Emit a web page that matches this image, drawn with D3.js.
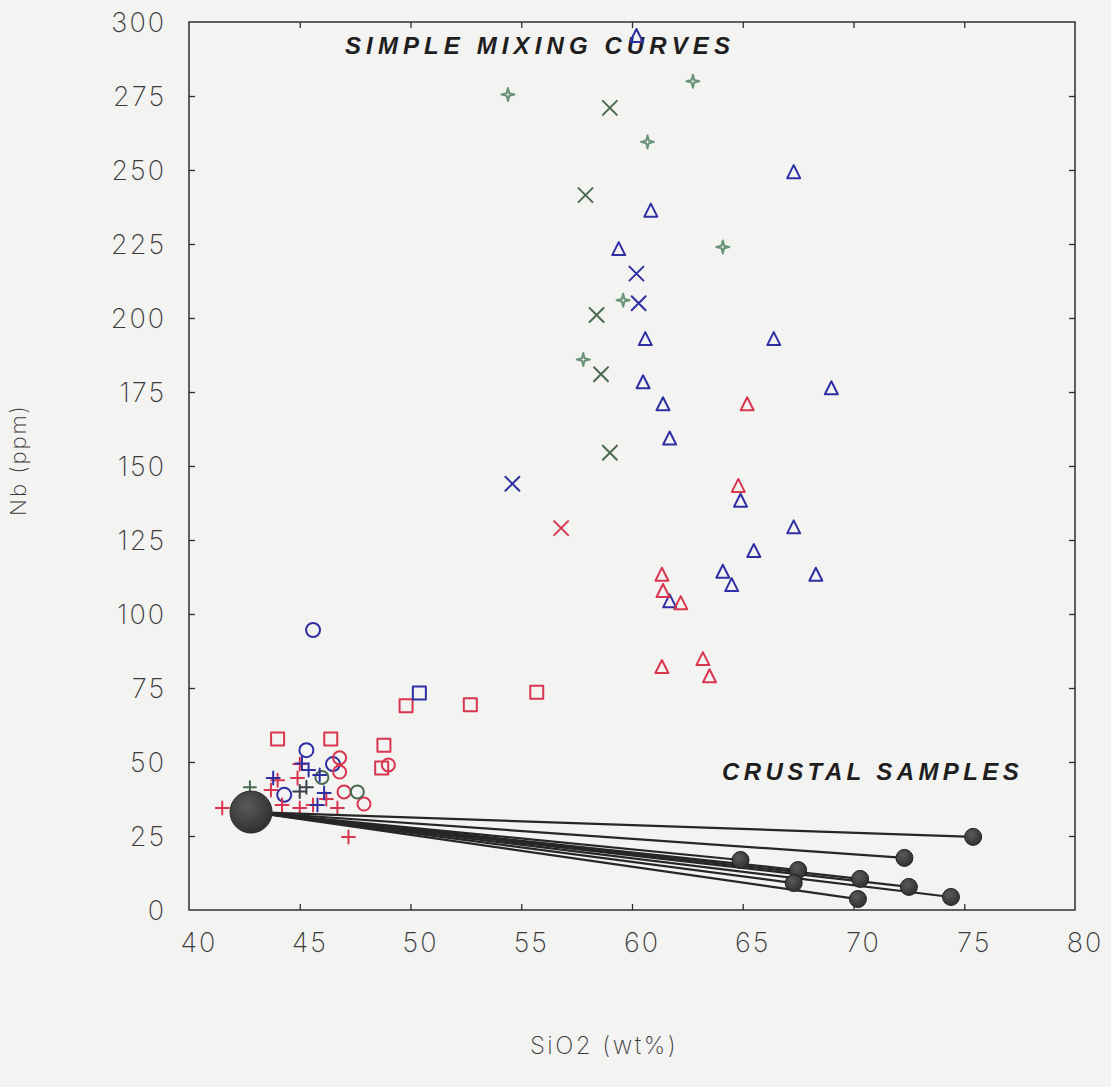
<!DOCTYPE html>
<html>
<head>
<meta charset="utf-8">
<script src="https://cdn.jsdelivr.net/npm/d3@7"></script>
<style>
  html, body { margin: 0; padding: 0; background: #f3f3f2; }
  svg { display: block; }
  .tick-label { font-family: Inter, "DejaVu Sans", sans-serif; font-weight: 200; fill: #3a3a3a; }
  .title { font-family: "Liberation Sans", Arial, sans-serif; font-weight: bold; font-style: italic; fill: #1e1e1e; }
</style>
</head>
<body>
<script>
// Nb (ppm) versus SiO2 (wt%) : simple mixing curves and crustal samples

const xTicks = [40, 45, 50, 55, 60, 65, 70, 75, 80];
const yTicks = [0, 25, 50, 75, 100, 125, 150, 175, 200, 225, 250, 275, 300];

// mixing-curve points, grouped by symbol and colour  [SiO2, Nb]
const blueTriangles = [
  [60.2, 295], [67.3, 249], [60.85, 236], [59.4, 223], [60.6, 192.6], [66.4, 192.6],
  [60.5, 178], [69.0, 176], [61.4, 170.6], [61.7, 159], [64.9, 138], [67.3, 129],
  [65.5, 121], [64.1, 114], [68.3, 113], [64.5, 109.5], [61.7, 104]
];
const redTriangles = [
  [65.2, 170.6], [64.8, 143], [61.35, 113], [61.4, 107.5], [62.2, 103.4],
  [63.2, 84.5], [61.35, 81.8], [63.5, 78.7]
];
const greenCrosses = [[59.0, 271], [57.9, 241.5], [58.4, 201], [58.6, 181], [59.0, 154.5]];
const blueCrosses = [[60.2, 215], [60.3, 205], [54.6, 144]];
const redCrosses = [[56.8, 129]];
const greenStars = [[54.4, 275.5], [62.75, 280], [60.7, 259.5], [64.1, 224], [59.6, 206], [57.8, 186]];
const redSquares = [
  [44.0, 57.8], [46.4, 57.8], [48.8, 55.7], [48.7, 48.0], [49.8, 69], [52.7, 69.3], [55.7, 73.6]
];
const blueSquares = [[50.4, 73.3]];
const blueCircles = [[45.6, 94.6], [45.3, 54], [46.5, 49.3], [44.3, 38.9]];
const redCircles = [[46.8, 51.4], [46.8, 46.6], [47.0, 39.9], [47.9, 35.8], [49.0, 49.0]];
const greenCircles = [[47.6, 39.9], [46.0, 44.8]];
const redPluses = [
  [45.0, 49.3], [44.9, 44.6], [43.7, 40.5], [44.0, 43.8], [41.5, 34.5], [44.2, 35.5],
  [45.0, 34.5], [45.6, 35.5], [46.7, 34.5], [47.2, 24.7], [43.5, 32.5], [46.2, 37.5]
];
const bluePluses = [[43.8, 44.6], [45.4, 47.3], [45.9, 45.6], [46.1, 39.5], [45.8, 35.5], [45.1, 49.5]];
const darkPluses = [[45.3, 41.5], [45.0, 40.0]];
const greenPluses = [[42.75, 41.5]];

// end-members of the mixing lines
const mantleSource = [42.8, 33.1];
const crustalSamples = [
  [75.4, 24.7], [72.3, 17.6], [64.9, 16.9], [67.5, 13.5], [67.3, 9.1],
  [70.3, 10.5], [72.5, 7.8], [74.4, 4.4], [70.2, 3.7]
];

const W = 1111, H = 1087;
const plotLeft = 189, plotRight = 1075, plotTop = 22, plotBottom = 910;

const x = d3.scaleLinear().domain([40, 80]).range([plotLeft, plotRight]);
const y = d3.scaleLinear().domain([0, 300]).range([plotBottom, plotTop]);

const colors = { red: "#d8364e", blue: "#2f2fa3", green: "#4b6b50", lightGreen: "#6a9478", dark: "#3a3f48" };

// symbol outlines centred on the origin
const shapes = {
  triangle: s => `M0,${-s * 0.6}L${s * 0.5},${s * 0.4}L${-s * 0.5},${s * 0.4}Z`,
  cross: s => `M${-s / 2},${-s / 2}L${s / 2},${s / 2}M${s / 2},${-s / 2}L${-s / 2},${s / 2}`,
  plus: s => `M${-s / 2},0L${s / 2},0M0,${-s / 2}L0,${s / 2}`,
  square: s => `M${-s / 2},${-s / 2}H${s / 2}V${s / 2}H${-s / 2}Z`,
  circle: s => { const r = s / 2; return `M${r},0A${r},${r} 0 1,1 ${-r},0A${r},${r} 0 1,1 ${r},0Z`; },
  star: s => { const a = s / 2, b = s * 0.1;
    return `M0,${-a}L${b},${-b}L${a},0L${b},${b}L0,${a}L${-b},${b}L${-a},0L${-b},${-b}Z`; }
};

const series = [
  { data: blueTriangles, shape: "triangle", size: 13, color: colors.blue },
  { data: redTriangles, shape: "triangle", size: 13, color: colors.red },
  { data: greenCrosses, shape: "cross", size: 14, color: colors.green },
  { data: blueCrosses, shape: "cross", size: 14, color: colors.blue },
  { data: redCrosses, shape: "cross", size: 14, color: colors.red },
  { data: greenStars, shape: "star", size: 13, color: colors.lightGreen },
  { data: redSquares, shape: "square", size: 13, color: colors.red },
  { data: blueSquares, shape: "square", size: 13, color: colors.blue },
  { data: blueCircles, shape: "circle", size: 14, color: colors.blue },
  { data: redCircles, shape: "circle", size: 13, color: colors.red },
  { data: greenCircles, shape: "circle", size: 13, color: colors.green },
  { data: redPluses, shape: "plus", size: 13, color: colors.red },
  { data: bluePluses, shape: "plus", size: 13, color: colors.blue },
  { data: darkPluses, shape: "plus", size: 13, color: colors.dark },
  { data: greenPluses, shape: "plus", size: 12, color: colors.green }
];

const svg = d3.select("body").append("svg").attr("width", W).attr("height", H);
svg.append("rect").attr("width", W).attr("height", H).attr("fill", "#f3f3f2");

// frame with inward ticks on all four sides
const frame = svg.append("g");
frame.append("rect")
  .attr("x", plotLeft).attr("y", plotTop)
  .attr("width", plotRight - plotLeft).attr("height", plotBottom - plotTop)
  .attr("fill", "none").attr("stroke", "#2e2e2e").attr("stroke-width", 1.5);

const tickLen = 6;
const axisStyle = g => {
  g.select(".domain").remove();
  g.selectAll(".tick line").attr("stroke", "#2e2e2e").attr("stroke-width", 1.3);
  g.selectAll(".tick text").remove();
};
frame.append("g").attr("transform", `translate(0,${plotBottom})`)
  .call(d3.axisTop(x).tickValues(xTicks.slice(1, -1)).tickSize(tickLen)).call(axisStyle);
frame.append("g").attr("transform", `translate(0,${plotTop})`)
  .call(d3.axisBottom(x).tickValues(xTicks.slice(1, -1)).tickSize(tickLen)).call(axisStyle);
frame.append("g").attr("transform", `translate(${plotLeft},0)`)
  .call(d3.axisRight(y).tickValues(yTicks.slice(1, -1)).tickSize(tickLen)).call(axisStyle);
frame.append("g").attr("transform", `translate(${plotRight},0)`)
  .call(d3.axisLeft(y).tickValues(yTicks.slice(1, -1)).tickSize(tickLen)).call(axisStyle);

// tick labels
svg.append("g").selectAll("text").data(xTicks).join("text")
  .attr("class", "tick-label")
  .attr("x", d => x(d) + 10).attr("y", plotBottom + 42)
  .attr("text-anchor", "middle").attr("font-size", 27).attr("letter-spacing", 2)
  .text(d => d);
svg.append("g").selectAll("text").data(yTicks).join("text")
  .attr("class", "tick-label")
  .attr("x", 166).attr("y", d => y(d)).attr("dy", "0.36em")
  .attr("text-anchor", "end").attr("font-size", 27).attr("letter-spacing", 2)
  .text(d => d);

// axis titles
svg.append("text").attr("class", "tick-label")
  .attr("transform", `translate(26,460) rotate(-90)`)
  .attr("text-anchor", "middle").attr("font-size", 22).attr("letter-spacing", 2)
  .text("Nb  (ppm)");
svg.append("text").attr("class", "tick-label")
  .attr("x", 604).attr("y", 1054)
  .attr("text-anchor", "middle").attr("font-size", 24).attr("letter-spacing", 2.5)
  .text("SiO2  (wt%)");

// annotations
svg.append("text").attr("class", "title")
  .attr("x", 345).attr("y", 54).attr("font-size", 24).attr("letter-spacing", 5.1)
  .text("SIMPLE MIXING CURVES");
svg.append("text").attr("class", "title")
  .attr("x", 722).attr("y", 780).attr("font-size", 24).attr("letter-spacing", 4.4)
  .text("CRUSTAL  SAMPLES");

// scatter symbols
const marks = svg.append("g");
series.forEach(s => {
  marks.append("g").selectAll("path").data(s.data).join("path")
    .attr("transform", d => `translate(${x(d[0])},${y(d[1])})`)
    .attr("d", shapes[s.shape](s.size))
    .attr("fill", "none")
    .attr("stroke", s.color)
    .attr("stroke-width", 2)
    .attr("stroke-linejoin", "round")
    .attr("stroke-linecap", "round");
});

// mixing lines from the source to each crustal sample
const mix = svg.append("g");
mix.selectAll("line").data(crustalSamples).join("line")
  .attr("x1", x(mantleSource[0])).attr("y1", y(mantleSource[1]))
  .attr("x2", d => x(d[0])).attr("y2", d => y(d[1]))
  .attr("stroke", "#262626").attr("stroke-width", 2.2);

const defs = svg.append("defs");
const grad = defs.append("radialGradient").attr("id", "ball").attr("cx", "40%").attr("cy", "35%").attr("r", "70%");
grad.append("stop").attr("offset", "0%").attr("stop-color", "#5a5a5a");
grad.append("stop").attr("offset", "100%").attr("stop-color", "#2e2e2e");

mix.selectAll("circle.sample").data(crustalSamples).join("circle")
  .attr("class", "sample")
  .attr("cx", d => x(d[0])).attr("cy", d => y(d[1])).attr("r", 8.5)
  .attr("fill", "url(#ball)").attr("stroke", "#222").attr("stroke-width", 1);

mix.append("circle")
  .attr("cx", x(mantleSource[0])).attr("cy", y(mantleSource[1])).attr("r", 21)
  .attr("fill", "url(#ball)").attr("stroke", "#2a2a2a").attr("stroke-width", 1);
</script>
</body>
</html>
